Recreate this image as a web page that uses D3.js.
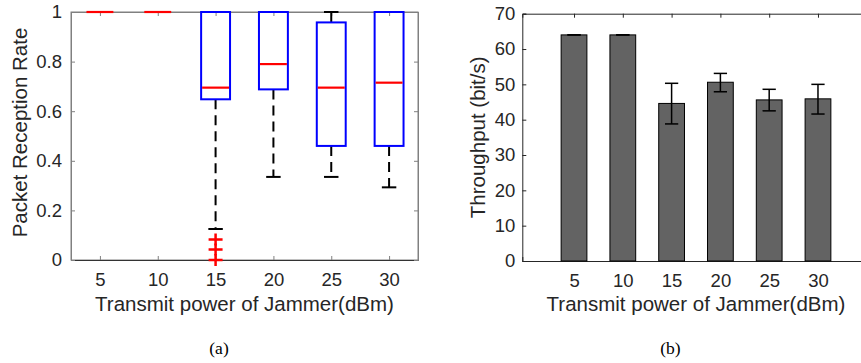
<!DOCTYPE html>
<html>
<head>
<meta charset="utf-8">
<script src="https://cdn.jsdelivr.net/npm/d3@7"></script>
<style>
  body { margin: 0; background: #fff; }
  svg { display: block; }
  .tick text { font-family: "Liberation Sans", Arial, sans-serif; fill: #262626; }
</style>
</head>
<body>
<script>
// data
const powers = [5, 10, 15, 20, 25, 30];

// (a) packet reception rate box plot
const boxQ1 = [1, 1, 0.648, 0.688, 0.46, 0.46];
const boxMedian = [1, 1, 0.695, 0.79, 0.695, 0.715];
const boxQ3 = [1, 1, 1, 1, 0.958, 1];
const whiskerLow = [1, 1, 0.125, 0.335, 0.335, 0.293];
const whiskerHigh = [1, 1, 1, 1, 1, 1];
const outliers = [[], [], [0, 0.042, 0.083], [], [], []];
const prrTicks = [0, 0.2, 0.4, 0.6, 0.8, 1];

// (b) throughput bar chart
const throughput = [64, 64, 44.6, 50.6, 45.6, 45.9];
const errLow = [64, 64, 38.8, 47.9, 42.5, 41.6];
const errHigh = [64, 64, 50.3, 53.1, 48.6, 50.0];
const thrTicks = [0, 10, 20, 30, 40, 50, 60, 70];

const W = 861, H = 363;
const svg = d3.select("body").append("svg").attr("width", W).attr("height", H);

const font = "Liberation Sans, Arial, sans-serif";
const txt = "#262626";

// ---------- left: box plot ----------
const xa = d3.scaleLinear().domain([0.5, 6.5]).range([71, 418]);
const ya = d3.scaleLinear().domain([0, 1]).range([260, 12]);
const step = xa(2) - xa(1);

const ga = svg.append("g");

// frame
ga.append("rect").attr("x", 71).attr("y", 12).attr("width", 347).attr("height", 248)
  .attr("fill", "none").attr("stroke", "#808080").attr("stroke-width", 1);

const axA_b = ga.append("g").attr("transform", "translate(0,260)")
  .call(d3.axisBottom(xa).tickValues([1, 2, 3, 4, 5, 6]).tickFormat((d, i) => powers[i])
    .tickSize(-4).tickPadding(13));
const axA_t = ga.append("g").attr("transform", "translate(0,12)")
  .call(d3.axisTop(xa).tickValues([1, 2, 3, 4, 5, 6]).tickFormat("").tickSize(-4));
const axA_l = ga.append("g").attr("transform", "translate(71,0)")
  .call(d3.axisLeft(ya).tickValues(prrTicks).tickFormat(d3.format("")).tickSize(-4).tickPadding(9));
const axA_r = ga.append("g").attr("transform", "translate(418,0)")
  .call(d3.axisRight(ya).tickValues(prrTicks).tickFormat("").tickSize(-4));
[axA_b, axA_t, axA_l, axA_r].forEach(a => {
  a.select(".domain").attr("stroke", "#808080");
  a.selectAll(".tick line").attr("stroke", "#808080");
  a.selectAll(".tick text").attr("font-size", 18.5).attr("fill", txt);
});
axA_b.select(".domain").attr("stroke", "#333");

const boxes = ga.append("g").selectAll("g").data(powers).join("g");
const bw = step * 0.5, cw = step * 0.25;

// whiskers (dashed)
boxes.append("line")
  .attr("x1", (d, i) => xa(i + 1)).attr("x2", (d, i) => xa(i + 1))
  .attr("y1", (d, i) => ya(boxQ1[i])).attr("y2", (d, i) => ya(whiskerLow[i]))
  .attr("stroke", "#000").attr("stroke-width", 2).attr("stroke-dasharray", "10,6");
boxes.append("line")
  .attr("x1", (d, i) => xa(i + 1)).attr("x2", (d, i) => xa(i + 1))
  .attr("y1", (d, i) => ya(boxQ3[i])).attr("y2", (d, i) => ya(whiskerHigh[i]))
  .attr("stroke", "#000").attr("stroke-width", 2).attr("stroke-dasharray", "10,6");
// caps
[whiskerLow, whiskerHigh].forEach(w => {
  boxes.append("line")
    .attr("x1", (d, i) => xa(i + 1) - cw / 2).attr("x2", (d, i) => xa(i + 1) + cw / 2)
    .attr("y1", (d, i) => ya(w[i])).attr("y2", (d, i) => ya(w[i]))
    .attr("stroke", "#000").attr("stroke-width", 2);
});
// box
boxes.append("rect")
  .attr("x", (d, i) => xa(i + 1) - bw / 2).attr("width", bw)
  .attr("y", (d, i) => ya(boxQ3[i])).attr("height", (d, i) => ya(boxQ1[i]) - ya(boxQ3[i]))
  .attr("fill", "none").attr("stroke", "#0000ff").attr("stroke-width", 2);
// median
boxes.append("line")
  .attr("x1", (d, i) => xa(i + 1) - bw / 2 + 1).attr("x2", (d, i) => xa(i + 1) + bw / 2 - 1)
  .attr("y1", (d, i) => ya(boxMedian[i])).attr("y2", (d, i) => ya(boxMedian[i]))
  .attr("stroke", "#ff0000").attr("stroke-width", 2.2);
// outliers
boxes.each(function (d, i) {
  const g = d3.select(this);
  outliers[i].forEach(v => {
    const cx = xa(i + 1), cy = ya(v);
    g.append("path").attr("d", `M${cx - 7},${cy}H${cx + 7}M${cx},${cy - 6}V${cy + 6}`)
      .attr("stroke", "#ff0000").attr("stroke-width", 2.5).attr("fill", "none");
  });
});

ga.append("text").attr("x", 244.5).attr("y", 311).attr("text-anchor", "middle")
  .attr("font-family", font).attr("font-size", 20.5).attr("fill", txt)
  .text("Transmit power of Jammer(dBm)");
ga.append("text").attr("transform", "translate(27,132.5) rotate(-90)").attr("text-anchor", "middle")
  .attr("font-family", font).attr("font-size", 20.5).attr("fill", txt)
  .text("Packet Reception Rate");
ga.append("text").attr("x", 219).attr("y", 354).attr("text-anchor", "middle")
  .attr("font-family", "Liberation Serif, Times New Roman, serif").attr("font-size", 17.5).attr("fill", "#000")
  .text("(a)");

// ---------- right: bar chart ----------
const xb = d3.scaleLinear().domain([-0.3, 35.3]).range([522.3, 869.7]);
const yb = d3.scaleLinear().domain([0, 70]).range([261, 13.7]);
const gb = svg.append("g");

const axB_b = gb.append("g").attr("transform", "translate(0,261)")
  .call(d3.axisBottom(xb).tickValues(powers).tickSize(-4).tickPadding(13));
const axB_t = gb.append("g").attr("transform", "translate(0,13.7)")
  .call(d3.axisTop(xb).tickValues(powers).tickFormat("").tickSize(-4));
const axB_l = gb.append("g").attr("transform", "translate(522.3,0)")
  .call(d3.axisLeft(yb).tickValues(thrTicks).tickSize(-4).tickPadding(7));
[axB_b, axB_t, axB_l].forEach(a => {
  a.select(".domain").attr("stroke", "#262626");
  a.selectAll(".tick line").attr("stroke", "#262626");
  a.selectAll(".tick text").attr("font-size", 18.5).attr("fill", txt);
});

// bar width in data units (half of it)
const barHalf = 1.32;
gb.append("g").selectAll("rect").data(throughput).join("rect")
  .attr("x", (d, i) => xb(powers[i] - barHalf))
  .attr("width", (d, i) => xb(powers[i] + barHalf) - xb(powers[i] - barHalf))
  .attr("y", d => yb(d)).attr("height", d => yb(0) - yb(d))
  .attr("fill", "#636363").attr("stroke", "#000").attr("stroke-width", 1);

const capHalf = 0.68;
const eb = gb.append("g").selectAll("g").data(powers).join("g");
eb.append("line")
  .attr("x1", d => xb(d)).attr("x2", d => xb(d))
  .attr("y1", (d, i) => yb(errLow[i])).attr("y2", (d, i) => yb(errHigh[i]))
  .attr("stroke", "#000").attr("stroke-width", 1.5);
[errLow, errHigh].forEach(e => {
  eb.append("line")
    .attr("x1", d => xb(d - capHalf)).attr("x2", d => xb(d + capHalf))
    .attr("y1", (d, i) => yb(e[i])).attr("y2", (d, i) => yb(e[i]))
    .attr("stroke", "#000").attr("stroke-width", 1.5);
});

gb.append("text").attr("x", 696).attr("y", 311).attr("text-anchor", "middle")
  .attr("font-family", font).attr("font-size", 20.5).attr("fill", txt)
  .text("Transmit power of Jammer(dBm)");
gb.append("text").attr("transform", "translate(485,137.3) rotate(-90)").attr("text-anchor", "middle")
  .attr("font-family", font).attr("font-size", 20.5).attr("fill", txt)
  .text("Throughput (bit/s)");
gb.append("text").attr("x", 670.5).attr("y", 354).attr("text-anchor", "middle")
  .attr("font-family", "Liberation Serif, Times New Roman, serif").attr("font-size", 17.5).attr("fill", "#000")
  .text("(b)");
</script>
</body>
</html>
